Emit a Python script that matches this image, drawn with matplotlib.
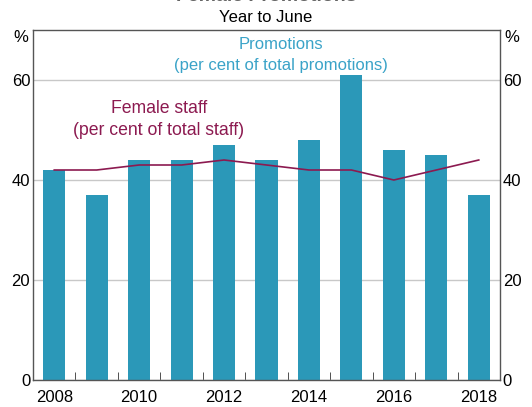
import matplotlib.pyplot as plt

# ------------------------------
# Data
# ------------------------------
years = [2008, 2009, 2010, 2011, 2012, 2013, 2014, 2015, 2016, 2017, 2018]
promotions = [42, 37, 44, 44, 47, 44, 48, 61, 46, 45, 37]
female_staff = [42, 42, 43, 43, 44, 43, 42, 42, 40, 42, 44]
y_ticks = [0, 20, 40, 60]
x_labels = [2008, 2010, 2012, 2014, 2016, 2018]

BAR_COLOR = '#2b98b8'
LINE_COLOR = '#8c1a50'
plt.rcParams['font.family'] = 'Liberation Sans'

fig = plt.figure(figsize=(5.32, 4.07), dpi=100)
ax = fig.add_axes([33 / 532, 27 / 407, 467 / 532, 350 / 407])

ax.bar(years, promotions, width=0.52, color=BAR_COLOR, zorder=2)
ax.plot(years, female_staff, color=LINE_COLOR, linewidth=1.2, zorder=3)

ax.set_xlim(2007.5, 2018.5)
ax.set_ylim(0, 70)
ax.set_yticks(y_ticks)
ax.set_xticks(x_labels)
ax.set_xticks([y + 0.5 for y in years[:-1]], minor=True)
ax.grid(axis='y', color='#c8c8c8', linewidth=1, zorder=0)

ax.tick_params(axis='x', which='major', length=0, labelsize=12, pad=7)
ax.tick_params(axis='x', which='minor', direction='in', length=6, color='#333333')
ax.tick_params(axis='y', length=0, labelsize=12, pad=2, labelright=True, right=False)

for s in ax.spines.values():
    s.set_color('#555555')
    s.set_linewidth(1)

ax.text(-0.01, 1.0, '%', transform=ax.transAxes, ha='right', va='top', fontsize=12)
ax.text(1.01, 1.0, '%', transform=ax.transAxes, ha='left', va='top', fontsize=12)

ax.text(2013.33, 65, 'Promotions\n(per cent of total promotions)', color='#3aa3c8',
        ha='center', va='center', fontsize=12, linespacing=1.45)
ax.text(2010.46, 52.1, 'Female staff\n(per cent of total staff)', color=LINE_COLOR,
        ha='center', va='center', fontsize=12.7, linespacing=1.45)

fig.text(0.5, 1 - 17 / 407, 'Year to June', ha='center', va='center', fontsize=12)
# title cut off at the top of the reference
fig.text(0.5, 1 - 1.2 / 407, 'Female Promotions', ha='center', va='baseline',
         fontsize=14, fontweight='bold', color='#666666')

fig.savefig('out.png', dpi=100)
